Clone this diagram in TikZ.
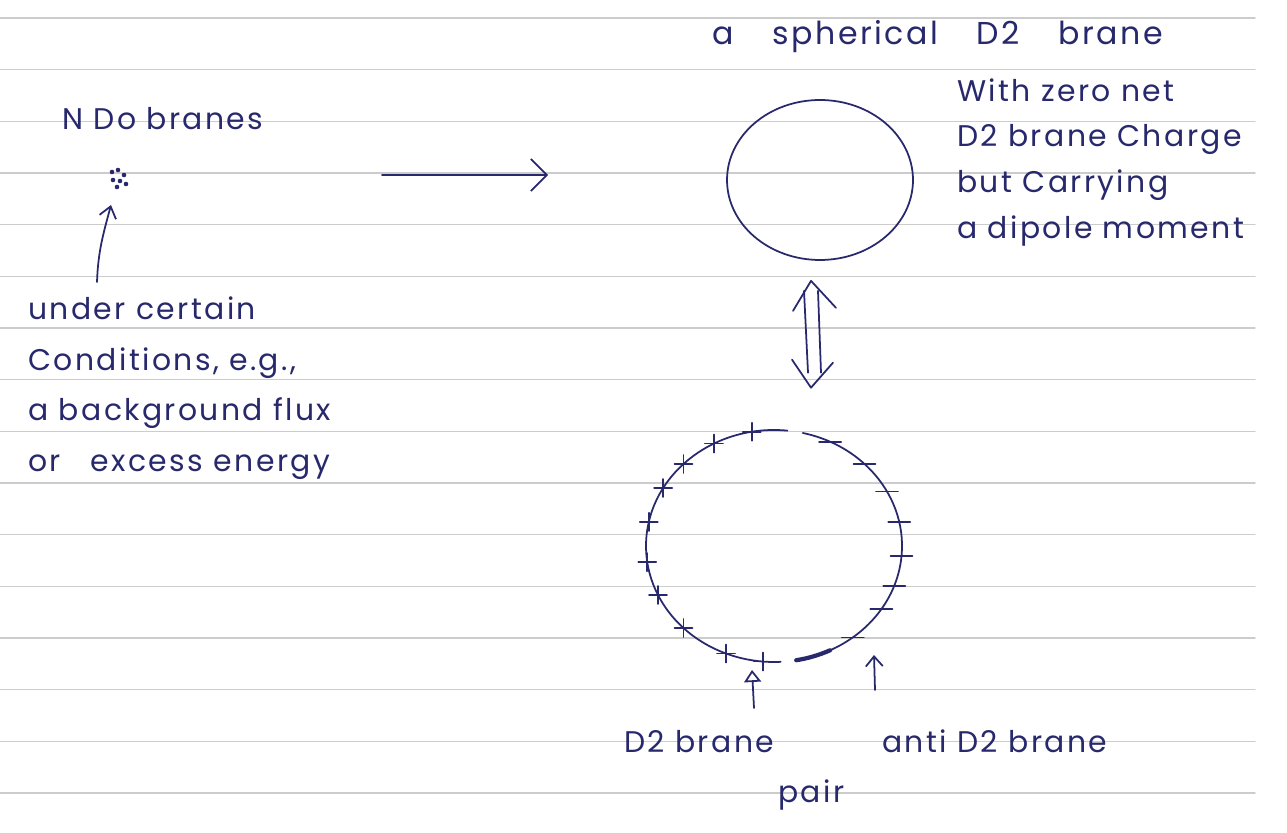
\documentclass[tikz,border=0pt]{standalone}
\usepackage{fontspec}
\setmainfont{Poppins}[LetterSpace=8]
\usetikzlibrary{arrows.meta,shapes.geometric}
\definecolor{ink}{HTML}{28296C}
\definecolor{rulegray}{HTML}{CCCCCC}
\tikzset{
	pen/.style={ink, line width=1pt},
	lbl/.style={ink, inner sep=0pt, align=left},
}
\newcommand\gap{\hspace{22pt}}
\begin{document}
\begin{tikzpicture}[x=.02cm, y=.02cm, font=\fontsize{17}{26}\selectfont, line join=round, line cap=round]
	\useasboundingbox[fill=white] (0,0) rectangle (1287,832);
	% ruled paper
	\foreach \k in {0,...,15} \draw[rulegray, line width=.8pt] (0,814-51.67*\k)--(1255,814-51.67*\k);
	% left: D0 branes
	\node[lbl, anchor=base west] (nd0) at (62,702) {N Do branes};
	\coordinate (nd) at (118,654);
	\foreach \p in {(-6,6),(0,8),(6,3),(-5,-2),(2,-3),(-1,-9),(8,-6)} \fill[ink] (nd) ++\p circle[radius=2.3];
	\node[lbl, anchor=north west, font=\fontsize{17}{29}\selectfont] (cond) at (28,536)
		{under certain\\Conditions, e.g.,\\a background flux\\or\quad excess energy};
	\coordinate (tail) at (97,550);
	\coordinate (tip) at (111,627);
	\draw[pen, -{Straight Barb[length=.22cm,width=.34cm]}] (tail) to[out=88,in=-105] (tip);
	\coordinate (go) at (382,657);
	\coordinate (gone) at (548,657);
	\draw[pen, -{Straight Barb[length=.32cm,width=.64cm]}] (go)--(gone);
	% right: spherical D2
	\node[lbl, anchor=base west, font=\fontsize{18}{26}\selectfont] (sph) at (712,787) {a\gap spherical\gap D2\gap brane};
	\node[lbl, anchor=north west] (desc) at (957,754)
		{With zero net\\D2 brane Charge\\but Carrying\\a dipole moment};
	\node[pen, draw, ellipse, minimum width=3.72cm, minimum height=3.2cm, inner sep=0pt] (ball) at (820,652) {};
	\node[ellipse, minimum width=5.12cm, minimum height=4.64cm, inner sep=0pt] (pair) at (774,286) {};
	% double arrow
	\coordinate (up) at ([shift={(-9,-20)}]ball.south);
	\coordinate (dn) at ([yshift=.84cm]up |- pair.north);
	\draw[pen] (up) ++(-7,-10) -- ([xshift=-.06cm,yshift=.3cm]dn) (up) ++(7,-10) -- ([xshift=.2cm,yshift=.3cm]dn);
	\draw[pen] (up) ++(-18,-30) -- (up) -- ++(25,-27);
	\draw[pen] (dn) ++(-19,28) -- (dn) -- ++(22,25);
	% D2 / anti D2 pair
	\draw[pen] (pair.center) ++(77:128 and 116) arc[start angle=77, end angle=-80, x radius=128, y radius=116];
	\draw[pen] (pair.center) ++(84:128 and 116) arc[start angle=84, end angle=273, x radius=128, y radius=116];
	\foreach \a in {100,118,135,150,168,188,205,225,248,265}
		\draw[pen] (pair.center) ++(\a:128 and 116) ++(-9,0)--++(18,0) ++(-9,-9)--++(0,18);
	\foreach \a in {64,45,28,12,-5,-20,-33,-52}
		\draw[pen] (pair.center) ++(\a:128 and 116) ++(-11,0)--++(22,0);
	\draw[ink, line width=2.4pt] (pair.center) ++(-80:128 and 116) arc[start angle=-80, end angle=-64, x radius=128, y radius=116];
	\node[lbl, anchor=base west] (d2) at (624,80) {D2 brane};
	\node[lbl, anchor=base west] (anti) at (882,80) {anti D2 brane};
	\node[lbl, anchor=base west] (pr) at (778,30) {pair};
	\coordinate (d2foot) at (754,124);
	\coordinate (d2tip) at (752,162);
	\coordinate (antifoot) at (875,142);
	\coordinate (antitip) at (874,177);
	\draw[pen, -{Triangle[open,length=.24cm,width=.34cm]}] (d2foot)--(d2tip);
	\draw[pen, -{Straight Barb[length=.2cm,width=.34cm]}] (antifoot)--(antitip);
\end{tikzpicture}
\end{document}
